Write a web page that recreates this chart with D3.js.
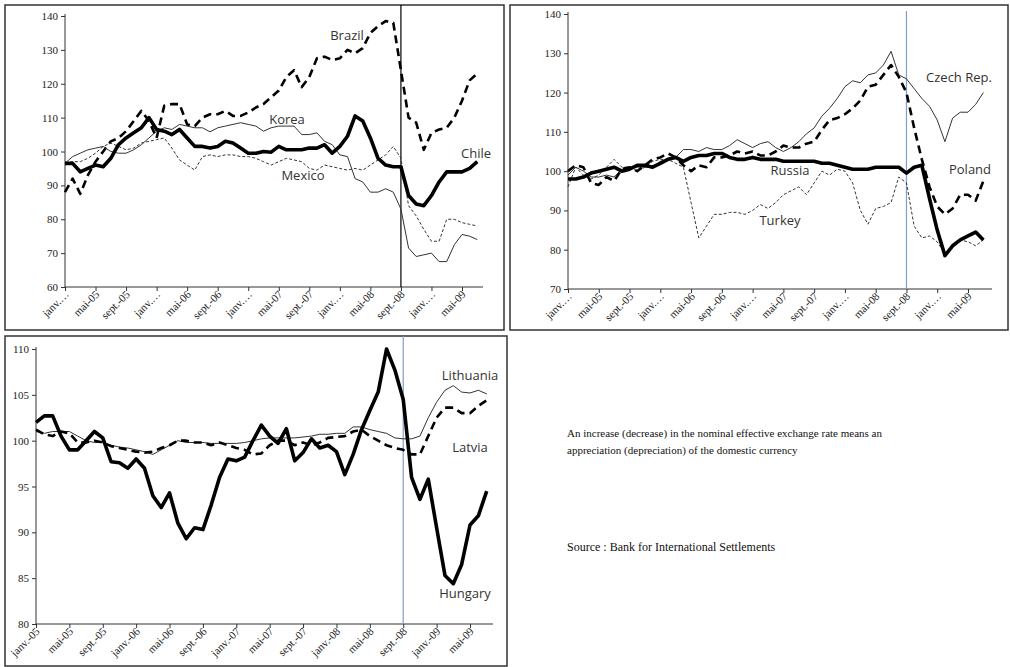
<!DOCTYPE html>
<html><head><meta charset="utf-8">
<script src="https://cdn.jsdelivr.net/npm/d3@7"></script>
<style>body{margin:0;background:#fff}</style></head>
<body><svg id="c" width="1010" height="667"></svg>
<script>
const tickLabels1 = ["janv.…","mai-05","sept.-05","janv.…","mai-06","sept.-06","janv.…","mai-07","sept.-07","janv.…","mai-08","sept.-08","janv.…","mai-09"];
const tickLabels3 = ["janv.-05","mai-05","sept.-05","janv.-06","mai-06","sept.-06","janv.-07","mai-07","sept.-07","janv.-08","mai-08","sept.-08","janv.-09","mai-09"];

const chile  = [96.5,96.5,94,95,96,95.5,98,102,104,105.5,107,110,106.5,106,105,106.5,104,101.5,101.5,101,101.5,103,102.5,101,99.5,99.5,100,99.8,101.5,100.5,100.5,100.5,101,101,102,99.5,101.5,104.5,110.5,109,104,98,96,95.5,95.5,87,84.5,84,87,91,94,94,94,95,97];
const korea  = [96.5,98.5,99.5,100.5,101,101.5,100,99.5,99.5,100.5,102,104,106,107,106.5,108,107.5,107,107,105.8,107,107.5,108,108.5,108,107.5,106,107,107.5,107.5,107.5,105,105,105.5,103,102,99,98.5,92,91,88,88,89,88,83,71.5,69,69.5,70,67.5,67.5,72.5,75.5,75,74];
const brazil = [88,92,87.5,93,97,100,103,104,106,109,112,109,104,113.5,114,114,108,107.5,110,111,111,112,110.5,110.5,111.5,113,114,116,118,122,124,119,122,127.5,128,127,127.5,130,129,130.5,135,137,138.5,138,124,110,108.5,100.5,105.5,106.5,107,110,115,121,123];
const mexico = [96.5,97,97,98,99.5,101.5,102.5,101.5,100.5,101,102.5,103,103.5,104,101,97.5,96,94.5,98.5,99,98.5,99,99,98.5,98.5,98,97,96,97,98,97.5,97,95,94.5,96,95.5,95,94.5,95,94.5,96,97.5,99,101.5,98,84,81,77,73.5,73.5,80,80,79,78.5,78];

const russia = [98,98,98.5,99.5,100,100.5,101,100,100.5,101.5,101.5,101,102,103,103.5,102.5,103.5,104,104,104.5,104.5,103.5,103,103,103.5,103,103,103,102.5,102.5,102.5,102.5,102.5,102,102,101.5,101,100.5,100.5,100.5,101,101,101,101,99.5,101,101.5,93,85,78.5,81,82.5,83.5,84.5,82.5];
const czech  = [99,101,100,98.5,98.5,99,98.5,100.5,100.5,101,101,101,102.5,103,103.5,105.5,105.5,105,106,105.5,105.5,106.5,108,107,106,107,107.5,106,105,106,107.5,109.5,111,114,116,118.5,121.5,123,122.5,124.5,125,127,130.5,124.5,123.5,121,118.5,116.5,113,107.5,113.5,115,115,117,120];
const poland = [100,101.5,101,97,96.5,98.5,97.5,100.5,101,100,101.5,103,103.5,104.5,103.5,101.5,100,101.5,101,103.5,103.5,104,105,104.5,105,104,104,105,106.5,106,106,107,107.5,110.5,113,113.5,114.5,116,118,121.5,122,124.5,127,124,120,111,103,96,91,89,90.5,94,94,92.5,97.5];
const turkey = [96,101,99,98,99,101,103,101,101,100,101,102.5,103,103,102,101,92,83,86,89,89,89.5,89.5,89,90,91.5,90.5,92,94,95,96,94,97,100,99,100.5,100,97,90,86.5,90.5,91,92,98.5,97,86,83,83.5,82,79,81,82.5,82,81,82.5];

const hungary   = [102,102.7,102.7,100.5,99,99,100,101,100.3,97.7,97.6,97,98,97,94,92.7,94.3,91,89.3,90.5,90.3,93,96,98,97.8,98.2,100,101.7,100.5,99.7,101.3,97.8,98.7,100.2,99.2,99.5,98.8,96.3,98.5,101.2,103.3,105.3,110,107.7,104.5,96,93.6,95.8,90.5,85.3,84.4,86.5,90.8,91.8,94.5];
const lithuania = [101,100.8,101,101,101,100.5,100,99.8,99.8,99.5,99.3,99.2,99,98.8,98.5,99,99.5,100,99.8,99.8,99.8,99.7,99.7,99.7,99.7,99.8,100,100.2,100.3,100.3,100.3,100.3,100.4,100.5,100.7,100.7,100.8,100.8,101.5,101.5,101.2,101,100.8,100.3,100.2,100.2,100.5,102.5,104.2,105.5,106,105.3,105.2,105.5,105.1];
const latvia    = [101.2,100.7,100.5,101,100.8,99.8,99.8,100,99.8,99.4,99.2,99,98.8,98.7,98.8,99.2,99.5,100,100,99.8,99.8,99.5,99.8,99.5,99.2,99,98.5,98.6,99.5,100,100,99.5,99.8,99.5,99.8,100.3,100.4,100.5,101,101.2,100.5,100,99.5,99.2,99,98.5,98.5,100.5,102.5,103.6,103.6,103,103,103.8,104.4];

const svg = d3.select("#c");
const styles = {
  thick:{w:3.6,d:null,c:"#000"}, thin:{w:1,d:null,c:"#333"},
  thickDash:{w:2.6,d:"8,5",c:"#000"}, thinDash:{w:1,d:"3,2",c:"#333"}
};

function panel(o){
  const g = svg.append("g");
  g.append("rect").attr("x",o.box[0]).attr("y",o.box[1]).attr("width",o.box[2]).attr("height",o.box[3])
   .attr("fill","none").attr("stroke","#333").attr("stroke-width",1.5);
  const x = d3.scaleLinear().domain([0,52]).range([o.x0,o.x52]);
  const y = d3.scaleLinear().domain(o.yd).range([o.yb,o.yt]);
  const ya = d3.axisLeft(y).tickValues(d3.range(o.yd[0],o.yd[1]+0.01,o.ystep)).tickSize(4);
  const yg = g.append("g").attr("transform",`translate(${o.x0},0)`).call(ya);
  yg.selectAll("text").attr("font-family","Liberation Serif").attr("font-size",11).attr("fill","#222");
  yg.select(".domain").attr("d",`M0,${o.yt-2}V${o.yb}`);
  const xa = d3.axisBottom(x).tickValues(d3.range(0,53,4)).tickFormat((d,i)=>o.labels[i]).tickSize(4);
  const xg = g.append("g").attr("transform",`translate(0,${o.yb})`).call(xa);
  xg.select(".domain").attr("d",`M${o.x0},0H${o.xend}`);
  xg.selectAll("text").attr("font-family","Liberation Serif").attr("font-size",11).attr("fill","#222")
    .attr("text-anchor","end").attr("x",0).attr("y",0).attr("dx",0).attr("dy",0)
    .attr("transform","translate(4,8) rotate(-45)");
  g.selectAll(".tick line").attr("stroke","#333");
  g.selectAll(".domain").attr("stroke","#333");
  g.append("line").attr("x1",x(44)).attr("x2",x(44)).attr("y1",o.vlTop).attr("y2",o.yb)
   .attr("stroke",o.vlColor).attr("stroke-width",1.2);
  const line = d3.line().x((d,i)=>x(i)).y(d=>y(d));
  o.series.forEach(s=>{
    const st = styles[s.style];
    g.append("path").datum(s.data).attr("d",line).attr("fill","none").attr("stroke",st.c)
     .attr("stroke-width",st.w).attr("stroke-dasharray",st.d).attr("stroke-linejoin","round");
    g.append("text").attr("x",s.lx).attr("y",s.ly).attr("text-anchor","middle")
     .attr("font-family","Open Sans, sans-serif").attr("font-size",13).attr("fill","#333").text(s.name);
  });
}

panel({box:[5,5,499,325],x0:65,x52:462,xend:483,yd:[60,140],ystep:10,yt:16,yb:287,labels:tickLabels1,
  vlTop:5,vlColor:"#000",
  series:[{data:brazil,style:"thickDash",name:"Brazil",lx:347,ly:40},
          {data:mexico,style:"thinDash",name:"Mexico",lx:303,ly:180},
          {data:korea,style:"thin",name:"Korea",lx:287,ly:124},
          {data:chile,style:"thick",name:"Chile",lx:476,ly:158}]});
panel({box:[510,5,498,325],x0:568,x52:968,xend:992,yd:[70,140],ystep:10,yt:14,yb:289,labels:tickLabels1,
  vlTop:11,vlColor:"#7f9fc4",
  series:[{data:turkey,style:"thinDash",name:"Turkey",lx:780,ly:225},
          {data:czech,style:"thin",name:"Czech Rep.",lx:959,ly:82},
          {data:poland,style:"thickDash",name:"Poland",lx:970,ly:174},
          {data:russia,style:"thick",name:"Russia",lx:790,ly:175}]});
panel({box:[5,336,502,330],x0:36,x52:470,xend:493,yd:[80,110],ystep:5,yt:349,yb:624,labels:tickLabels3,
  vlTop:336,vlColor:"#7f9fc4",
  series:[{data:lithuania,style:"thin",name:"Lithuania",lx:470,ly:380},
          {data:latvia,style:"thickDash",name:"Latvia",lx:470,ly:452},
          {data:hungary,style:"thick",name:"Hungary",lx:465,ly:598}]});

const note = svg.append("g").attr("font-family","Liberation Serif").attr("font-size",11).attr("fill","#111");
note.append("text").attr("x",567).attr("y",437).text("An increase (decrease) in the nominal effective exchange rate means an");
note.append("text").attr("x",567).attr("y",454).text("appreciation (depreciation) of the domestic currency");
note.append("text").attr("x",567).attr("y",551).attr("font-size",12).text("Source : Bank for International Settlements");
</script></body></html>
